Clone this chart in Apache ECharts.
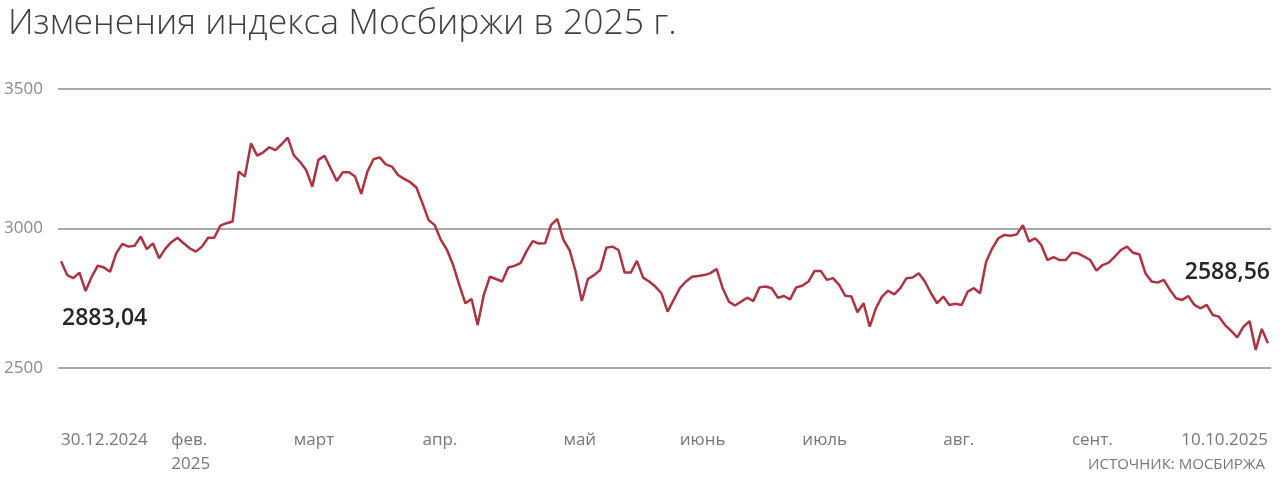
<!DOCTYPE html>
<html>
<head>
<meta charset="utf-8">
<script src="https://cdn.jsdelivr.net/npm/echarts@6/dist/echarts.min.js"></script>
<style>
  html, body { margin: 0; padding: 0; background: #ffffff; }
  #chart { width: 1280px; height: 480px; }
</style>
</head>
<body>
<div id="chart"></div>
<script>
// Daily closing values of the MOEX index, 30.12.2024 – 10.10.2025
const indexValues = [
  2883.04, 2833, 2822, 2842, 2776, 2827, 2867, 2860, 2845, 2911, 2945, 2935, 2938, 2971, 2926, 2947, 2893, 2927, 2951, 2967,
  2947, 2929, 2917, 2935, 2967, 2967, 3010, 3019, 3025, 3204, 3186, 3305, 3261, 3273, 3291, 3281, 3302, 3326,
  3262, 3239, 3210, 3150, 3246, 3261, 3216, 3170, 3202, 3202, 3186, 3124, 3204, 3248, 3255, 3230, 3222, 3192, 3178, 3166,
  3147, 3090, 3030, 3012, 2959, 2923, 2869, 2798, 2732, 2747, 2654, 2762, 2827, 2819, 2810, 2860, 2866, 2876, 2919, 2955,
  2946, 2947,
  3013, 3034, 2959, 2923, 2845, 2740, 2819, 2833, 2851, 2931, 2935, 2923, 2842, 2842, 2884, 2824, 2810, 2792, 2768, 2702,
  2744, 2786, 2810, 2827, 2830, 2833, 2840, 2855, 2786, 2738, 2724, 2738, 2752, 2740, 2789, 2792, 2786,
  2752, 2758, 2746, 2789, 2795, 2810, 2848, 2848, 2816, 2822, 2798, 2759, 2756, 2700, 2732, 2648, 2714, 2756, 2777, 2764,
  2786, 2822, 2824, 2840, 2810, 2768, 2732, 2756, 2726, 2730, 2726, 2774, 2786, 2768, 2881, 2929, 2965, 2977, 2974, 2979,
  3012, 2953, 2965, 2941, 2887, 2897, 2887, 2887, 2913, 2911, 2899, 2887, 2849, 2869, 2878, 2899, 2923, 2935, 2913, 2908,
  2840, 2810, 2806, 2816, 2780, 2750, 2744, 2758, 2726, 2714, 2726, 2690, 2684, 2654, 2633, 2610, 2648, 2668, 2565, 2640,
  2588.56
];

// Category positions (trading-day index) where x labels are shown, and their texts
const labelIndex = [0, 18, 38, 59, 82, 101, 121, 144, 165, 197];
const tickLabels = ['30.12.2024', 'фев.\n2025', 'март', 'апр.', 'май', 'июнь', 'июль', 'авг.', 'сент.', '10.10.2025'];

// Y axis ticks
const yTicks = [2500, 3000, 3500];

const titleText = 'Изменения индекса Мосбиржи в 2025 г.';
const sourceText = 'ИСТОЧНИК: МОСБИРЖА';

const categories = indexValues.map((v, i) => {
  const k = labelIndex.indexOf(i);
  const name = k >= 0 ? tickLabels[k] : String(i);
  if (i === indexValues.length - 1) {
    return { value: name, textStyle: { align: 'right' } };
  }
  return name;
});

const fmt = v => v.toFixed(2).replace('.', ',');
const lastIdx = indexValues.length - 1;

const chart = echarts.init(document.getElementById('chart'), null, { renderer: 'canvas' });
chart.setOption({
  animation: false,
  backgroundColor: '#ffffff',
  textStyle: { fontFamily: "'Open Sans', sans-serif" },
  title: [
    {
      text: titleText,
      left: 3,
      top: 1,
      textStyle: { fontFamily: "'Open Sans', sans-serif", fontSize: 35.5, fontWeight: 300, color: '#3e3e3e' }
    },
    {
      text: sourceText,
      right: 10,
      top: 452,
      textStyle: { fontFamily: "'Open Sans', sans-serif", fontSize: 15, fontWeight: 'normal', color: '#777777' }
    }
  ],
  grid: { left: 58, right: 9, top: 89, bottom: 112, containLabel: false },
  xAxis: {
    type: 'category',
    boundaryGap: true,
    data: categories,
    axisLine: { show: false },
    axisTick: { show: false },
    splitLine: { show: false },
    axisLabel: {
      interval: (idx) => labelIndex.indexOf(idx) >= 0,
      hideOverlap: false,
      align: 'left',
      verticalAlign: 'top',
      margin: 60,
      fontSize: 17,
      lineHeight: 24,
      color: '#777777',
      fontFamily: "'Open Sans', sans-serif"
    }
  },
  yAxis: {
    type: 'value',
    min: yTicks[0],
    max: yTicks[yTicks.length - 1],
    interval: yTicks[1] - yTicks[0],
    axisLine: { show: false },
    axisTick: { show: false },
    splitLine: { show: true, lineStyle: { color: '#8c8c8c', width: 1.5 } },
    axisLabel: {
      align: 'left',
      margin: 54,
      fontSize: 17,
      color: '#8a8a8a',
      fontFamily: "'Open Sans', sans-serif",
      formatter: (v) => String(v)
    }
  },
  series: [
    {
      type: 'line',
      data: indexValues,
      showSymbol: false,
      smooth: false,
      lineStyle: { color: '#ad3340', width: 2.5 },
      itemStyle: { color: '#ad3340' },
      markPoint: {
        symbol: 'circle',
        symbolSize: 0,
        silent: true,
        data: [
          {
            coord: [0, indexValues[0]],
            label: {
              show: true, position: 'inside', formatter: fmt(indexValues[0]),
              align: 'left', verticalAlign: 'middle', offset: [1, 57],
              fontSize: 23, fontWeight: 600, color: '#262626', fontFamily: "'Open Sans', sans-serif"
            }
          },
          {
            coord: [lastIdx, indexValues[lastIdx]],
            label: {
              show: true, position: 'inside', formatter: fmt(indexValues[lastIdx]),
              align: 'right', verticalAlign: 'middle', offset: [2, -71],
              fontSize: 23, fontWeight: 600, color: '#262626', fontFamily: "'Open Sans', sans-serif"
            }
          }
        ]
      }
    }
  ]
});
</script>
</body>
</html>
